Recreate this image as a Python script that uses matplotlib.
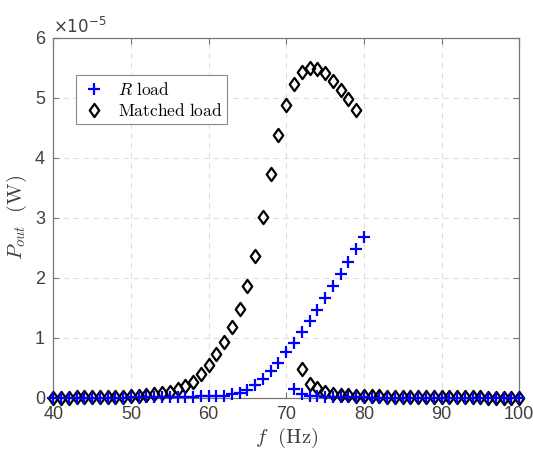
import numpy as np
import matplotlib
matplotlib.use("Agg")
import matplotlib.pyplot as plt
from matplotlib.path import Path

plt.rcParams['mathtext.fontset'] = 'cm'
plt.rcParams['font.family'] = ['Liberation Sans', 'DejaVu Sans']

# output power in units of 1e-5 W
# upper (rising) branches
f_r_up = np.arange(40, 81)
p_r_up = [0.003, 0.003, 0.004, 0.004, 0.005, 0.005, 0.006, 0.006, 0.007, 0.008,
          0.009, 0.010, 0.011, 0.012, 0.013, 0.015, 0.017, 0.019, 0.021, 0.025,
          0.029, 0.034, 0.040, 0.060, 0.090, 0.130, 0.220, 0.320, 0.450, 0.590,
          0.760, 0.920, 1.100, 1.280, 1.470, 1.670, 1.870, 2.060, 2.270, 2.480,
          2.680]
f_m_up = np.arange(40, 80)
p_m_up = [0.006, 0.007, 0.008, 0.009, 0.010, 0.012, 0.014, 0.016, 0.018, 0.021,
          0.025, 0.032, 0.045, 0.060, 0.080, 0.105, 0.145, 0.200, 0.270, 0.400,
          0.550, 0.730, 0.940, 1.180, 1.480, 1.860, 2.370, 3.020, 3.730, 4.380,
          4.890, 5.230, 5.430, 5.500, 5.480, 5.410, 5.290, 5.140, 4.990, 4.800]

# lower branches
f_r_dn = np.arange(71, 101)
p_r_dn = [0.150, 0.070, 0.040, 0.030, 0.022, 0.018, 0.015, 0.012, 0.010, 0.009,
          0.008, 0.007, 0.006, 0.006, 0.005, 0.005, 0.004, 0.004, 0.004, 0.003,
          0.003, 0.003, 0.003, 0.003, 0.002, 0.002, 0.002, 0.002, 0.002, 0.002]
f_m_dn = np.arange(72, 101)
p_m_dn = [0.480, 0.230, 0.160, 0.100, 0.070, 0.055, 0.045, 0.038, 0.032, 0.028,
          0.025, 0.022, 0.020, 0.018, 0.016, 0.015, 0.014, 0.013, 0.012, 0.011,
          0.010, 0.010, 0.009, 0.009, 0.008, 0.008, 0.007, 0.007, 0.007]

# matlab-ish diamond (a bit taller than wide)
diamond = Path([(0, 1), (0.72, 0), (0, -1), (-0.72, 0), (0, 1)],
               [Path.MOVETO, Path.LINETO, Path.LINETO, Path.LINETO, Path.CLOSEPOLY])

fig = plt.figure(figsize=(5.33, 4.5), dpi=100)
ax = fig.add_axes([0.1, 0.1156, 0.874, 0.8])

ax.grid(True, linestyle=(0, (5, 4)), color='#dddddd', linewidth=0.8)
ax.set_axisbelow(True)

dk = dict(marker=diamond, linestyle='none', markersize=9.5, markerfacecolor='none',
          markeredgecolor='k', markeredgewidth=1.6, clip_on=False)
pk = dict(marker='+', linestyle='none', markersize=8, color='#0000ff',
          markeredgewidth=1.6, clip_on=False)

ax.plot(f_m_up, p_m_up, label=r'$\mathrm{Matched\ load}$', zorder=3, **dk)
ax.plot(f_m_dn, p_m_dn, zorder=3, **dk)
ax.plot(f_r_up, p_r_up, label=r'$R\ \mathrm{load}$', zorder=4, **pk)
ax.plot(f_r_dn, p_r_dn, zorder=4, **pk)

ax.set_xlim(40, 100)
ax.set_ylim(0, 6)
ax.set_xticks(np.arange(40, 101, 10))
ax.set_yticks(np.arange(0, 7, 1))

for s in ax.spines.values():
    s.set_color('#777777')
    s.set_linewidth(0.9)
ax.tick_params(direction='in', length=4, colors='#777777', labelcolor='#404040',
               labelsize=13, top=True, right=True, pad=6)

ax.set_xlabel(r'$f\ \ \mathrm{(Hz)}$', fontsize=15, color='#404040', labelpad=2)
ax.set_ylabel(r'$P_{out}\ \ \mathrm{(W)}$', fontsize=15, color='#404040', labelpad=4)

ax.text(0.0, 1.005, r'$\times10^{-5}$', transform=ax.transAxes, fontsize=12,
        color='#404040', ha='left', va='bottom', math_fontfamily='dejavusans')

h, l = ax.get_legend_handles_labels()
leg = ax.legend(h[::-1], l[::-1], loc='upper left', bbox_to_anchor=(0.03, 0.92),
                fontsize=12.5, fancybox=False, edgecolor='#888888', framealpha=1,
                borderpad=0.3, handletextpad=0.6, labelspacing=0.25,
                handlelength=1.5)
leg.get_frame().set_linewidth(0.8)

fig.savefig('out.png', dpi=100)
